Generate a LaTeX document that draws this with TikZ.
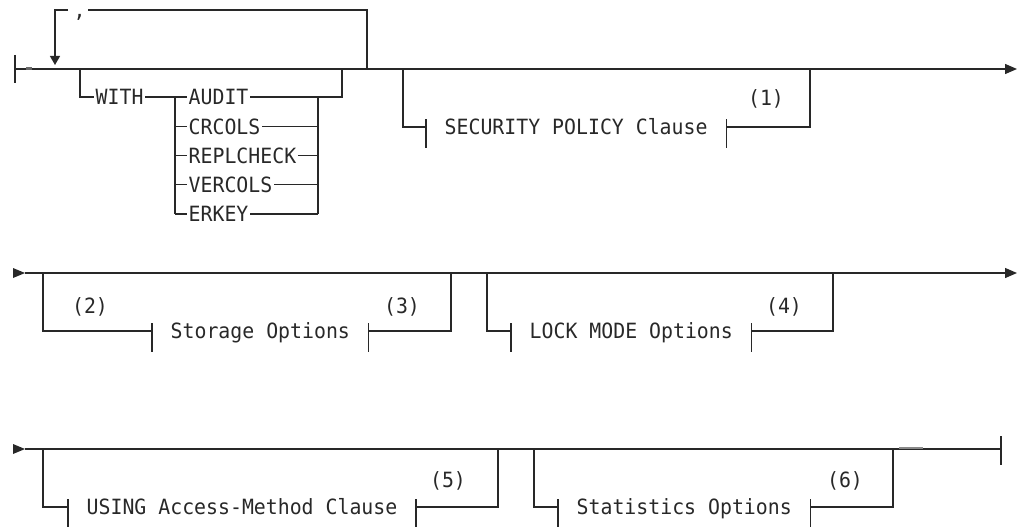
\documentclass[tikz,border=0pt]{standalone}
\usepackage{fontspec}
\newfontfamily\diagfont[FakeStretch=0.945]{DejaVu Sans Mono}
\usetikzlibrary{arrows.meta}
\definecolor{ink}{RGB}{40,40,40}
\newcommand{\railfont}{\diagfont\fontsize{21}{22}\selectfont}
\tikzset{
  rail/.style={draw=ink, line width=1.3pt},
  endarrow/.style={-{Triangle[length=12pt,width=10pt]}},
  downarrow/.style={-{Triangle[length=9pt,width=10pt]}},
  lbl/.style={font=\railfont, text=ink, inner xsep=1.5pt, inner ysep=0pt, text height=15pt, text depth=0pt, anchor=west},
  clause/.style={lbl, inner xsep=18.5pt},
  note/.style={font=\railfont, text=ink, inner sep=0pt, text height=15pt, text depth=0pt, anchor=center},
  startmark/.style={fill=ink, draw=none},
  artefact/.style={draw=ink!70, line width=2.2pt},
}
\begin{document}
\begin{tikzpicture}[x=1pt,y=-1pt]
\useasboundingbox (0,0) rectangle (1019,527);

% ================= Row 1 =================
\coordinate (r1s) at (15,69);
\coordinate (r1e) at (1017,69);
\draw[rail] (15,55) -- (15,83);
\draw[rail, endarrow] (r1s) -- (r1e);
\draw[artefact] (26,68.5) -- (32,68.5);

% repeat loop with comma
\node[font=\railfont, text=ink, inner sep=0pt, anchor=base] (comma) at (79.5,17.5) {,};
\coordinate (lpA) at (55,65);
\coordinate (lpB) at (55,10);
\coordinate (lpC) at (68,10);
\coordinate (lpD) at (88,10);
\coordinate (lpE) at (367,10);
\coordinate (lpF) at (367,69);
\draw[rail, downarrow] (lpC) -- (lpB) -- (lpA);
\draw[rail] (lpD) -- (lpE) -- (lpF);

% WITH branch
\node[lbl] (with) at (94,97) {WITH};
\coordinate (wA) at (80,69);
\coordinate (wB) at (80,97);
\coordinate (wC) at (175,97);
\coordinate (wD) at (175,214);
\draw[rail] (wA) -- (wB) -- (with.west);
\draw[rail] (with.east) -- (wC) -- (wD);

\node[lbl] (audit) at (187,97) {AUDIT};
\node[lbl] (crcols) at (187,126.5) {CRCOLS};
\node[lbl] (repl) at (187,155.5) {REPLCHECK};
\node[lbl] (vercols) at (187,184.5) {VERCOLS};
\node[lbl] (erkey) at (187,214) {ERKEY};

\foreach \n/\y in {audit/97,crcols/126.5,repl/155.5,vercols/184.5,erkey/214}{
  \draw[rail] (175,\y) -- (\n.west);
  \draw[rail] (\n.east) -- (318,\y);
}
\coordinate (oA) at (318,97);
\coordinate (oB) at (318,214);
\coordinate (oC) at (342,97);
\coordinate (oD) at (342,69);
\draw[rail] (oB) -- (oA) -- (oC) -- (oD);

% SECURITY POLICY branch
\node[clause] (sec) at (426,127) {SECURITY POLICY Clause};
\coordinate (sA) at (403,69);
\coordinate (sB) at (403,127);
\coordinate (sC) at (810,127);
\coordinate (sD) at (810,69);
\draw[rail] (sA) -- (sB) -- (sec.west);
\draw[rail] (sec.east) -- (sC) -- (sD);
\draw[rail] ([yshift=8pt]sec.west) -- ([yshift=-21pt]sec.west);
\draw[rail] ([yshift=8pt]sec.east) -- ([yshift=-21pt]sec.east);
\node[note] (n1) at (766,98) {(1)};

% ================= Row 2 =================
\coordinate (r2s) at (25,273);
\coordinate (r2e) at (1017,273);
\fill[startmark] (13,268) -- (r2s) -- (13,278) -- cycle;
\draw[rail, endarrow] (r2s) -- (r2e);

\node[clause] (stor) at (152,331) {Storage Options};
\coordinate (tA) at (43,273);
\coordinate (tB) at (43,331);
\coordinate (tC) at (451,331);
\coordinate (tD) at (451,273);
\draw[rail] (tA) -- (tB) -- (stor.west);
\draw[rail] (stor.east) -- (tC) -- (tD);
\draw[rail] ([yshift=8pt]stor.west) -- ([yshift=-21pt]stor.west);
\draw[rail] ([yshift=8pt]stor.east) -- ([yshift=-21pt]stor.east);
\node[note] (n2) at (90,306) {(2)};
\node[note] (n3) at (402,306) {(3)};

\node[clause] (lock) at (511,331) {LOCK MODE Options};
\coordinate (kA) at (487,273);
\coordinate (kB) at (487,331);
\coordinate (kC) at (833,331);
\coordinate (kD) at (833,273);
\draw[rail] (kA) -- (kB) -- (lock.west);
\draw[rail] (lock.east) -- (kC) -- (kD);
\draw[rail] ([yshift=8pt]lock.west) -- ([yshift=-21pt]lock.west);
\draw[rail] ([yshift=8pt]lock.east) -- ([yshift=-21pt]lock.east);
\node[note] (n4) at (784,306) {(4)};

% ================= Row 3 =================
\coordinate (r3s) at (25,449);
\coordinate (r3e) at (1001,449);
\fill[startmark] (13,444) -- (r3s) -- (13,454) -- cycle;
\draw[rail] (r3s) -- (r3e);
\draw[rail] (1001,436) -- (1001,465);
\draw[artefact, draw=ink!55, line width=2pt] (899,448.3) -- (923,448.3);

\node[clause] (using) at (68,507) {USING Access-Method Clause};
\coordinate (uA) at (43,449);
\coordinate (uB) at (43,507);
\coordinate (uC) at (498,507);
\coordinate (uD) at (498,449);
\draw[rail] (uA) -- (uB) -- (using.west);
\draw[rail] (using.east) -- (uC) -- (uD);
\draw[rail] ([yshift=8pt]using.west) -- (using.west |- 0,527);
\draw[rail] ([yshift=8pt]using.east) -- (using.east |- 0,527);
\node[note] (n5) at (448,480) {(5)};

\node[clause] (stat) at (558,507) {Statistics Options};
\coordinate (aA) at (534,449);
\coordinate (aB) at (534,507);
\coordinate (aC) at (893,507);
\coordinate (aD) at (893,449);
\draw[rail] (aA) -- (aB) -- (stat.west);
\draw[rail] (stat.east) -- (aC) -- (aD);
\draw[rail] ([yshift=8pt]stat.west) -- (stat.west |- 0,527);
\draw[rail] ([yshift=8pt]stat.east) -- (stat.east |- 0,527);
\node[note] (n6) at (845,480) {(6)};
\end{tikzpicture}
\end{document}
